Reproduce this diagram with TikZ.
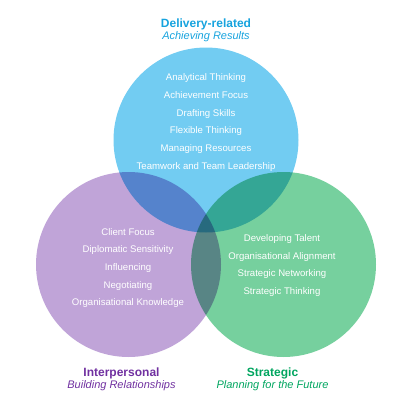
\documentclass[tikz,border=0pt]{standalone}
\usepackage{fontspec}
\setmainfont{Liberation Sans}
\usetikzlibrary{positioning}

\definecolor{deliveryfill}{RGB}{114,204,242}
\definecolor{peoplefill}{RGB}{192,164,216}
\definecolor{strategyfill}{RGB}{118,208,158}
\definecolor{deliveryhead}{RGB}{22,163,222}
\definecolor{peoplehead}{RGB}{112,48,160}
\definecolor{strategyhead}{RGB}{0,165,95}

\begin{document}
\begin{tikzpicture}[x=1pt, y=1pt,
    area/.style={circle, minimum size=185pt, inner sep=0pt},
    skills/.style={text=white, align=center, inner sep=0pt, font=\fontsize{9.6}{17.7}\selectfont},
    heading/.style={inner sep=0pt, font=\fontsize{12}{14}\selectfont\bfseries},
    subheading/.style={inner sep=0pt, font=\fontsize{11}{13}\selectfont\itshape}]
    \useasboundingbox (0,0) rectangle (413,-413);

    % the three overlapping areas
    \begin{scope}[blend group=multiply]
        \node[area, fill=deliveryfill] (delivery) at (206,-140) {};
        \node[area, fill=peoplefill] (people) at (128.5,-264.5) {};
        \node[area, fill=strategyfill] (strategy) at (283.5,-264.5) {};
    \end{scope}

    % headings
    \node[heading, text=deliveryhead] (deliverytitle) at (206,-24.5) {Delivery-related};
    \node[subheading, text=deliveryhead, below=1.2pt of deliverytitle] (deliverysub) {Achieving Results};
    \node[heading, text=peoplehead, below=10pt of people, xshift=-7pt] (peopletitle) {Interpersonal};
    \node[subheading, text=peoplehead, below=1.2pt of peopletitle] (peoplesub) {Building Relationships};
    \node[heading, text=strategyhead, below=10pt of strategy, xshift=-11pt] (strategytitle) {Strategic};
    \node[subheading, text=strategyhead, below=1.2pt of strategytitle] (strategysub) {Planning for the Future};

    % competencies
    \node[skills] (deliveryskills) at (206,-122.5) {Analytical Thinking\\Achievement Focus\\Drafting Skills\\Flexible Thinking\\Managing Resources\\Teamwork and Team Leadership};
    \node[skills] (peopleskills) at (128,-268) {Client Focus\\Diplomatic Sensitivity\\Influencing\\Negotiating\\Organisational Knowledge};
    \node[skills] (strategyskills) at (282,-265.5) {Developing Talent\\Organisational Alignment\\Strategic Networking\\Strategic Thinking};
\end{tikzpicture}
\end{document}
